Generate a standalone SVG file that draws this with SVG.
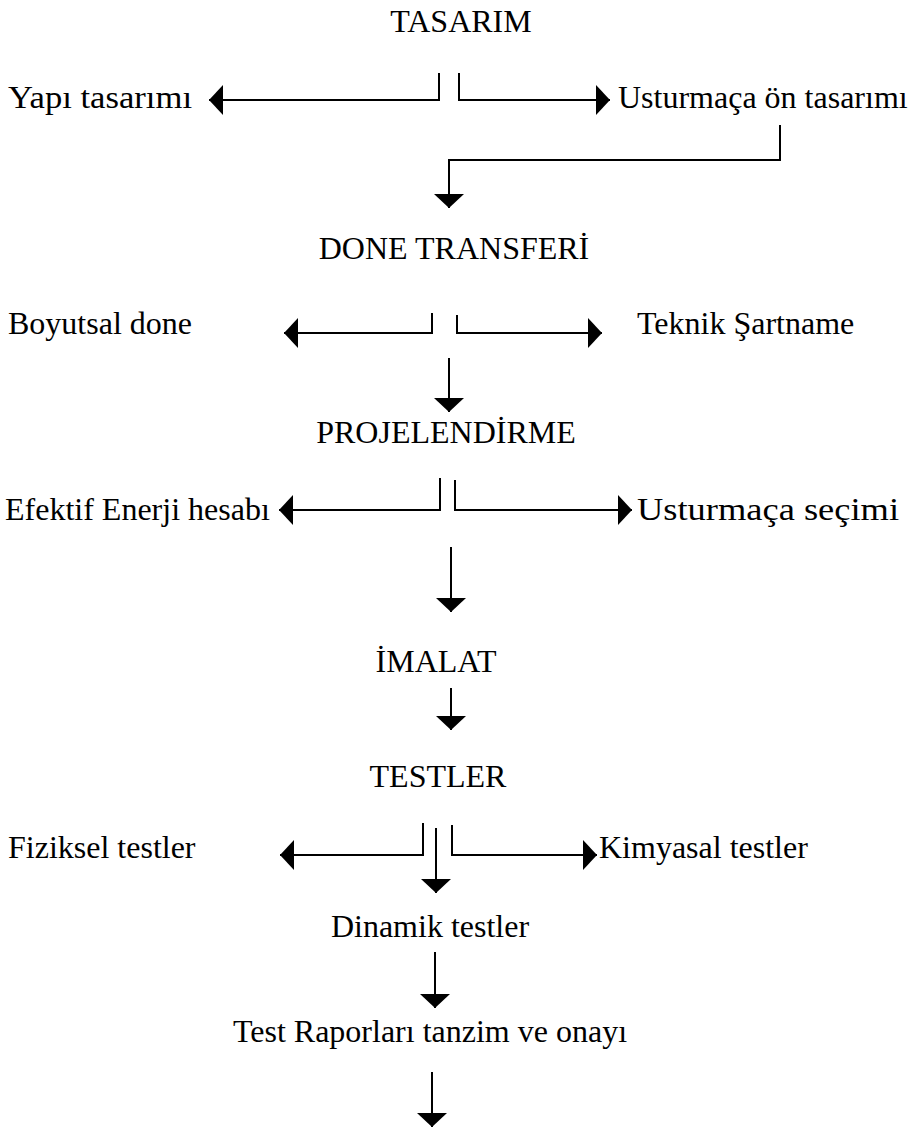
<svg xmlns="http://www.w3.org/2000/svg" width="908" height="1128" viewBox="0 0 908 1128">
<style>
text{font-family:"Liberation Serif","Times New Roman",serif;font-size:32px;fill:#000}
.c{text-anchor:middle}
.ln{fill:none;stroke:#000;stroke-width:2}
</style>
<defs>
<marker id="ah" viewBox="0 0 14 30" refX="14" refY="15" markerWidth="14" markerHeight="30" markerUnits="userSpaceOnUse" orient="auto">
<path d="M0,0 L14,15 L0,30 z" fill="#000"/>
</marker>
</defs>
<rect width="908" height="1128" fill="#fff"/>
<g id="n-tasarim"><text class="c" x="461" y="32">TASARIM</text></g>
<g id="n-yapi"><text x="8" y="108" textLength="184" lengthAdjust="spacingAndGlyphs">Yapı tasarımı</text></g>
<g id="n-usturmaca-on"><text x="618" y="108">Usturmaça ön tasarımı</text></g>
<g id="n-done"><text class="c" x="454" y="259">DONE TRANSFERİ</text></g>
<g id="n-boyutsal"><text x="8" y="334">Boyutsal done</text></g>
<g id="n-teknik"><text x="637" y="334">Teknik Şartname</text></g>
<g id="n-proje"><text class="c" x="446" y="443">PROJELENDİRME</text></g>
<g id="n-efektif"><text x="5" y="520">Efektif Enerji hesabı</text></g>
<g id="n-secimi"><text x="637" y="520" textLength="262" lengthAdjust="spacingAndGlyphs">Usturmaça seçimi</text></g>
<g id="n-imalat"><text class="c" x="436" y="672">İMALAT</text></g>
<g id="n-testler"><text class="c" x="438" y="787">TESTLER</text></g>
<g id="n-fiziksel"><text x="8" y="858">Fiziksel testler</text></g>
<g id="n-kimyasal"><text x="599" y="858">Kimyasal testler</text></g>
<g id="n-dinamik"><text class="c" x="430" y="937">Dinamik testler</text></g>
<g id="n-rapor"><text class="c" x="430" y="1042">Test Raporları tanzim ve onayı</text></g>
<g id="connectors" class="ln">
<polyline class="ln" points="439,73 439,100 209,100" marker-end="url(#ah)"/>
<polyline class="ln" points="459,73 459,100 610,100" marker-end="url(#ah)"/>
<polyline class="ln" points="780,125 780,160 449,160 449,208" marker-end="url(#ah)"/>
<polyline class="ln" points="432,313 432,333 284,333" marker-end="url(#ah)"/>
<polyline class="ln" points="457,315 457,333 602,333" marker-end="url(#ah)"/>
<polyline class="ln" points="449,358 449,412" marker-end="url(#ah)"/>
<polyline class="ln" points="440,478 440,510 279,510" marker-end="url(#ah)"/>
<polyline class="ln" points="455,480 455,510 632,510" marker-end="url(#ah)"/>
<polyline class="ln" points="451,547 451,612" marker-end="url(#ah)"/>
<polyline class="ln" points="451,688 451,730" marker-end="url(#ah)"/>
<polyline class="ln" points="423,823 423,855 280,855" marker-end="url(#ah)"/>
<polyline class="ln" points="452,825 452,855 597,855" marker-end="url(#ah)"/>
<polyline class="ln" points="436,828 436,893" marker-end="url(#ah)"/>
<polyline class="ln" points="435,952 435,1008" marker-end="url(#ah)"/>
<polyline class="ln" points="432,1072 432,1127" marker-end="url(#ah)"/>
</g>
</svg>
